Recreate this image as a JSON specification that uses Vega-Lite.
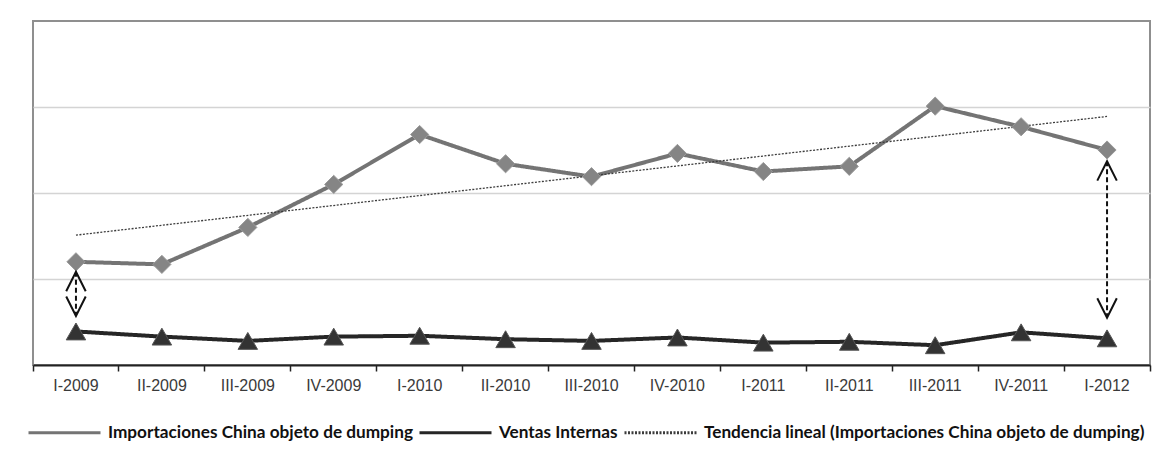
{
  "$schema": "https://vega.github.io/schema/vega-lite/v6.json",
  "autosize": {"type": "none"},
  "width": 1117,
  "height": 344,
  "padding": {"left": 33, "top": 21, "right": 17, "bottom": 94},
  "background": "white",
  "config": {
    "view": {"stroke": "#8f8f8f", "strokeWidth": 2},
    "font": "Liberation Sans"
  },
  "datasets": {
    "trend": [
      {"q": "I-2009", "serie": "Tendencia lineal (Importaciones China objeto de dumping)", "v": 1.51},
      {"q": "I-2012", "serie": "Tendencia lineal (Importaciones China objeto de dumping)", "v": 2.89}
    ],
    "arrows": [
      {"q": "I-2009", "top": 1.085, "bottom": 0.57},
      {"q": "I-2012", "top": 2.37, "bottom": 0.55}
    ]
  },
  "data": {
    "values": [
      {"q": "I-2009", "serie": "Importaciones China objeto de dumping", "v": 1.20},
      {"q": "II-2009", "serie": "Importaciones China objeto de dumping", "v": 1.17},
      {"q": "III-2009", "serie": "Importaciones China objeto de dumping", "v": 1.60},
      {"q": "IV-2009", "serie": "Importaciones China objeto de dumping", "v": 2.10},
      {"q": "I-2010", "serie": "Importaciones China objeto de dumping", "v": 2.68},
      {"q": "II-2010", "serie": "Importaciones China objeto de dumping", "v": 2.34},
      {"q": "III-2010", "serie": "Importaciones China objeto de dumping", "v": 2.19},
      {"q": "IV-2010", "serie": "Importaciones China objeto de dumping", "v": 2.46},
      {"q": "I-2011", "serie": "Importaciones China objeto de dumping", "v": 2.25},
      {"q": "II-2011", "serie": "Importaciones China objeto de dumping", "v": 2.31},
      {"q": "III-2011", "serie": "Importaciones China objeto de dumping", "v": 3.01},
      {"q": "IV-2011", "serie": "Importaciones China objeto de dumping", "v": 2.77},
      {"q": "I-2012", "serie": "Importaciones China objeto de dumping", "v": 2.50},
      {"q": "I-2009", "serie": "Ventas Internas", "v": 0.39},
      {"q": "II-2009", "serie": "Ventas Internas", "v": 0.33},
      {"q": "III-2009", "serie": "Ventas Internas", "v": 0.28},
      {"q": "IV-2009", "serie": "Ventas Internas", "v": 0.33},
      {"q": "I-2010", "serie": "Ventas Internas", "v": 0.34},
      {"q": "II-2010", "serie": "Ventas Internas", "v": 0.30},
      {"q": "III-2010", "serie": "Ventas Internas", "v": 0.28},
      {"q": "IV-2010", "serie": "Ventas Internas", "v": 0.32},
      {"q": "I-2011", "serie": "Ventas Internas", "v": 0.26},
      {"q": "II-2011", "serie": "Ventas Internas", "v": 0.27},
      {"q": "III-2011", "serie": "Ventas Internas", "v": 0.23},
      {"q": "IV-2011", "serie": "Ventas Internas", "v": 0.38},
      {"q": "I-2012", "serie": "Ventas Internas", "v": 0.31}
    ]
  },
  "encoding": {
    "x": {
      "field": "q",
      "type": "ordinal",
      "sort": null,
      "scale": {
        "type": "band",
        "paddingInner": 0,
        "paddingOuter": 0,
        "domain": ["I-2009", "II-2009", "III-2009", "IV-2009", "I-2010", "II-2010", "III-2010", "IV-2010", "I-2011", "II-2011", "III-2011", "IV-2011", "I-2012"]
      },
      "axis": {
        "title": null,
        "orient": "bottom",
        "labelAngle": 0,
        "labelFont": "Liberation Sans",
        "labelFontSize": 16,
        "labelColor": "#3a3a3a",
        "labelPadding": 6,
        "domainColor": "#222222",
        "domainWidth": 2,
        "tickColor": "#222222",
        "tickWidth": 1.5,
        "tickSize": 6,
        "bandPosition": 1,
        "tickExtra": true,
        "grid": false
      }
    }
  },
  "layer": [
    {
      "mark": {"type": "line", "strokeWidth": 4},
      "encoding": {
        "y": {
          "field": "v",
          "type": "quantitative",
          "scale": {"domain": [0, 4], "nice": false},
          "axis": {
            "title": null,
            "labels": false,
            "ticks": false,
            "domain": false,
            "values": [1, 2, 3],
            "grid": true,
            "gridColor": "#d4d4d4",
            "gridWidth": 1.5
          }
        },
        "color": {
          "field": "serie",
          "type": "nominal",
          "scale": {
            "domain": ["Importaciones China objeto de dumping", "Ventas Internas", "Tendencia lineal (Importaciones China objeto de dumping)"],
            "range": ["#747474", "#262626", "#3c3c3c"]
          },
          "legend": {
            "title": null,
            "orient": "none",
            "legendX": -6,
            "legendY": 374,
            "direction": "horizontal",
            "symbolType": "stroke",
            "symbolSize": 5184,
            "symbolStrokeWidth": 3,
            "labelFont": "Lato",
            "labelFontWeight": "bold",
            "labelFontSize": 17.2,
            "labelColor": "#111111",
            "labelLimit": 600,
            "labelOffset": 6,
            "columnPadding": 0
          }
        },
        "strokeDash": {
          "field": "serie",
          "type": "nominal",
          "scale": {
            "domain": ["Importaciones China objeto de dumping", "Ventas Internas", "Tendencia lineal (Importaciones China objeto de dumping)"],
            "range": [[1, 0], [1, 0], [2, 1.5]]
          }
        }
      }
    },
    {
      "data": {"name": "trend"},
      "mark": {"type": "line", "strokeWidth": 1.3},
      "encoding": {
        "y": {"field": "v", "type": "quantitative"},
        "color": {"field": "serie", "type": "nominal"},
        "strokeDash": {"field": "serie", "type": "nominal"}
      }
    },
    {
      "transform": [{"filter": "datum.serie === 'Importaciones China objeto de dumping'"}],
      "mark": {"type": "point", "shape": "diamond", "filled": true, "size": 330, "fill": "#858585", "stroke": "#9a9a9a", "strokeWidth": 1, "opacity": 1},
      "encoding": {"y": {"field": "v", "type": "quantitative"}}
    },
    {
      "transform": [{"filter": "datum.serie === 'Ventas Internas'"}],
      "mark": {"type": "point", "shape": "triangle-up", "filled": true, "size": 380, "fill": "#333333", "stroke": "#555555", "strokeWidth": 1, "opacity": 1},
      "encoding": {"y": {"field": "v", "type": "quantitative"}}
    },
    {
      "data": {"name": "arrows"},
      "mark": {"type": "rule", "strokeDash": [5, 3], "strokeWidth": 2, "color": "#111111"},
      "encoding": {
        "y": {"field": "top", "type": "quantitative"},
        "y2": {"field": "bottom"}
      }
    },
    {
      "data": {"name": "arrows"},
      "mark": {"type": "point", "shape": "M-1,2L0,0L1,2", "filled": false, "size": 380, "stroke": "#111111", "strokeWidth": 2, "opacity": 1},
      "encoding": {"y": {"field": "top", "type": "quantitative"}}
    },
    {
      "data": {"name": "arrows"},
      "mark": {"type": "point", "shape": "M-1,-2L0,0L1,-2", "filled": false, "size": 380, "stroke": "#111111", "strokeWidth": 2, "opacity": 1},
      "encoding": {"y": {"field": "bottom", "type": "quantitative"}}
    }
  ]
}
